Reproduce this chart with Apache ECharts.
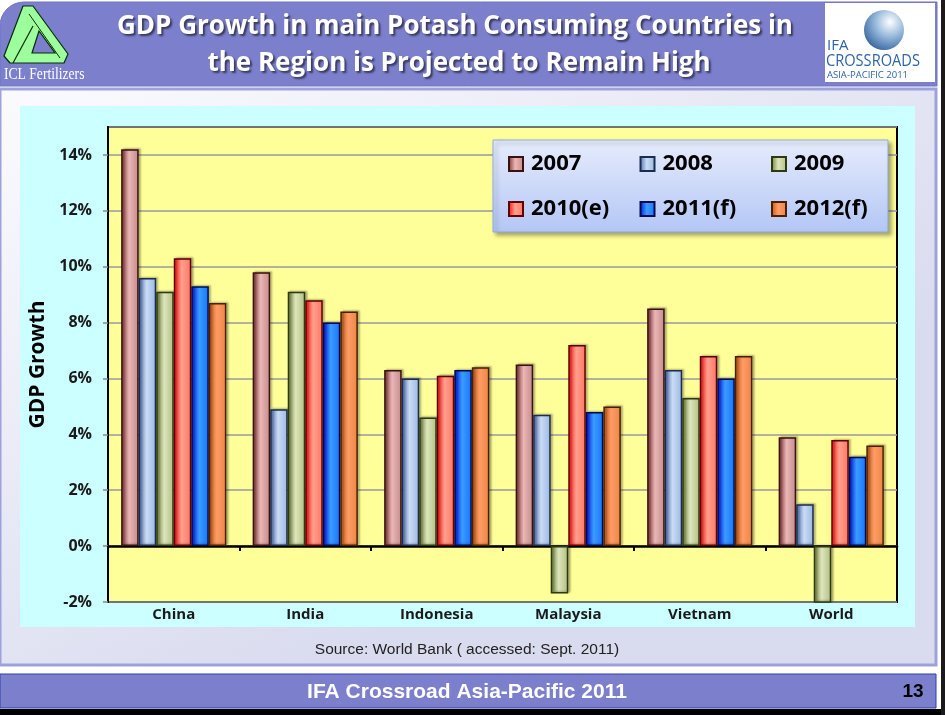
<!DOCTYPE html>
<html><head><meta charset="utf-8">
<script src="https://cdn.jsdelivr.net/npm/echarts@6/dist/echarts.min.js"></script>
<style>html,body{margin:0;padding:0;background:#fff;}#c{width:945px;height:715px;}</style>
</head><body><div id="c"></div>
<script>
const categories = ['China', 'India', 'Indonesia', 'Malaysia', 'Vietnam', 'World'];
const seriesNames = ['2007', '2008', '2009', '2010(e)', '2011(f)', '2012(f)'];
const gdp2007 = [14.2, 9.8, 6.3, 6.5, 8.5, 3.9];
const gdp2008 = [9.6, 4.9, 6.0, 4.7, 6.3, 1.5];
const gdp2009 = [9.1, 9.1, 4.6, -1.7, 5.3, -2.2];
const gdp2010 = [10.3, 8.8, 6.1, 7.2, 6.8, 3.8];
const gdp2011 = [9.3, 8.0, 6.3, 4.8, 6.0, 3.2];
const gdp2012 = [8.7, 8.4, 6.4, 5.0, 6.8, 3.6];
const yMin = -2, yMax = 15, yStep = 2;
const titleLines = ['GDP Growth in main Potash Consuming Countries in', 'the Region is Projected to Remain High'];
const yAxisTitle = 'GDP Growth';
const sourceText = 'Source: World Bank ( accessed: Sept. 2011)';
const footerText = 'IFA Crossroad Asia-Pacific 2011';
const pageNumber = '13';

const allValues = [gdp2007, gdp2008, gdp2009, gdp2010, gdp2011, gdp2012];
const FONT = "'Open Sans', sans-serif";

function grad(edge, light, right) {
  return { type: 'linear', x: 0, y: 0, x2: 1, y2: 0, colorStops: [
    { offset: 0, color: edge }, { offset: 0.45, color: light }, { offset: 1, color: right }
  ]};
}
const barColors = [
  grad('#7a2e2e', '#eab6b6', '#c48a8a'),
  grad('#4a6cb0', '#cadcf4', '#9ab6e2'),
  grad('#6a7e30', '#dde5bd', '#b0bf80'),
  grad('#ff0a0a', '#ffa08e', '#ff7462'),
  grad('#0010e8', '#3a9cff', '#1872ff'),
  grad('#c05410', '#ff9c66', '#ec8444')
];
const borderColors = ['#3a1010', '#1c2c50', '#2e3814', '#600000', '#000a50', '#4a2000'];

const series = seriesNames.map((n, i) => ({
  name: n, type: 'bar', xAxisIndex: 0, yAxisIndex: 0,
  data: allValues[i], barGap: '0%', barCategoryGap: '20%', clip: true,
  itemStyle: { color: barColors[i], borderColor: borderColors[i], borderWidth: 1.5,
    shadowColor: 'rgba(0,0,0,0.25)', shadowBlur: 2, shadowOffsetX: 2, shadowOffsetY: -1 },
  emphasis: { disabled: true }
}));

const legendPos = [[508, 153], [639.5, 153], [771, 153], [508, 198], [639.5, 198], [771, 198]];
const legends = seriesNames.map((n, i) => ({
  data: [n], left: legendPos[i][0], top: legendPos[i][1], padding: 0,
  icon: 'rect', itemWidth: 14, itemHeight: 14, selectedMode: false, z: 6,
  textStyle: { fontFamily: FONT, fontWeight: 'bold', fontSize: 22, color: '#000', lineHeight: 22, padding: [0, 0, 0, 3] }
}));

const chart = echarts.init(document.getElementById('c'), null, { renderer: 'canvas' });
chart.setOption({
  animation: false,
  backgroundColor: '#ffffff',
  textStyle: { fontFamily: FONT },
  grid: { left: 108, right: 48, top: 127, bottom: 113, show: true, backgroundColor: '#ffff99', borderColor: '#000', borderWidth: 2 },
  legend: legends,
  xAxis: [
    { type: 'category', data: categories, position: 'bottom',
      axisLine: { show: true, onZero: true, lineStyle: { color: '#000', width: 2.5 } },
      axisTick: { show: true, length: 5, lineStyle: { color: '#000', width: 2 } },
      axisLabel: { show: false }, splitLine: { show: false } },
    { type: 'category', data: categories, position: 'bottom',
      axisLine: { show: false, onZero: false }, axisTick: { show: false },
      axisLabel: { show: true, margin: 5, fontFamily: FONT, fontWeight: 'bold', fontSize: 15, color: '#1a1a1a' },
      splitLine: { show: false } }
  ],
  yAxis: {
    type: 'value', min: yMin, max: yMax, interval: yStep,
    name: yAxisTitle, nameLocation: 'middle', nameGap: 56, nameRotate: 90,
    nameTextStyle: { fontFamily: FONT, fontWeight: 'bold', fontSize: 21, color: '#000' },
    axisLine: { show: true, lineStyle: { color: '#000', width: 2 } },
    axisTick: { show: true, length: 5, lineStyle: { color: '#888', width: 1.5 } },
    axisLabel: { formatter: v => v + '%', showMaxLabel: false, margin: 16, fontFamily: FONT, fontWeight: 'bold', fontSize: 16, color: '#1a1a1a' },
    splitLine: { show: true, lineStyle: { color: '#9a9a9a', width: 1.5 } }
  },
  series: series,
  graphic: { elements: [
    { type: 'rect', z: -10, shape: { x: 0, y: 89, width: 936, height: 576 },
      style: { fill: { type: 'linear', x: 0, y: 0, x2: 0.35, y2: 1, colorStops: [{ offset: 0, color: '#fbfbfe' }, { offset: 1, color: '#d9dbef' }] },
        stroke: '#9da1dc', lineWidth: 3 } },
    { type: 'rect', z: -9, shape: { x: 20, y: 106, width: 895, height: 521 }, style: { fill: '#ccffff' } },
    { type: 'rect', z: -10, shape: { x: 0, y: 2, width: 937, height: 84, r: [24, 0, 0, 0] }, style: { fill: '#7b7fcc', stroke: '#6f73c2', lineWidth: 1 } },
    { type: 'rect', z: -10, shape: { x: 0, y: 674, width: 936, height: 34 }, style: { fill: '#7b7fcc', stroke: '#2f3fae', lineWidth: 1 } },
    { type: 'rect', z: -10, shape: { x: 0, y: 709, width: 945, height: 6 }, style: { fill: '#000' } },
    { type: 'rect', z: -10, shape: { x: 941, y: 0, width: 4, height: 715 }, style: { fill: '#1a1a1a' } },
    { type: 'text', z: 10, x: 455, y: 27, style: { text: titleLines[0], fill: '#fff', font: 'bold 26px ' + FONT, align: 'center', verticalAlign: 'middle',
        textShadowColor: 'rgba(0,0,0,0.55)', textShadowBlur: 2, textShadowOffsetX: 2, textShadowOffsetY: 2 } },
    { type: 'text', z: 10, x: 459, y: 64, style: { text: titleLines[1], fill: '#fff', font: 'bold 26px ' + FONT, align: 'center', verticalAlign: 'middle',
        textShadowColor: 'rgba(0,0,0,0.55)', textShadowBlur: 2, textShadowOffsetX: 2, textShadowOffsetY: 2 } },
    { type: 'polygon', z: 10, shape: { points: [[23, 6], [33, 6], [68, 54], [64, 63], [10, 63], [4, 56]] },
      style: { fill: '#9cff9c', stroke: '#0a2a0a', lineWidth: 1.2, lineJoin: 'round' } },
    { type: 'polygon', z: 11, shape: { points: [[39, 31], [32, 53], [55, 53]] }, style: { fill: '#7b7fcc', stroke: '#0a2a0a', lineWidth: 1.2 } },
    { type: 'polyline', z: 11, shape: { points: [[33, 26], [13, 63]] }, style: { stroke: '#0a2a0a', lineWidth: 1.2 } },
    { type: 'polyline', z: 11, shape: { points: [[29, 14], [60, 58]] }, style: { stroke: '#0a2a0a', lineWidth: 1 } },
    { type: 'text', z: 11, x: 4, y: 75, scaleX: 0.8, originX: 0, style: { text: 'ICL Fertilizers', fill: '#fff', font: '17px "Liberation Serif", serif', align: 'left', verticalAlign: 'middle' } },
    { type: 'rect', z: 10, shape: { x: 825, y: 3, width: 110, height: 79 }, style: { fill: '#fff' } },
    { type: 'circle', z: 11, shape: { cx: 884, cy: 30, r: 20 },
      style: { fill: { type: 'radial', x: 0.65, y: 0.3, r: 0.8, colorStops: [{ offset: 0, color: '#ffffff' }, { offset: 0.5, color: '#8fb3d8' }, { offset: 1, color: '#2f5f98' }] } } },
    { type: 'text', z: 12, x: 827, y: 46, style: { text: 'IFA', fill: '#2e64a8', font: '15px ' + FONT, verticalAlign: 'middle' } },
    { type: 'text', z: 12, x: 826, y: 61, scaleX: 0.86, originX: 0, style: { text: 'CROSSROADS', fill: '#2e64a8', font: '17px ' + FONT, verticalAlign: 'middle' } },
    { type: 'text', z: 12, x: 827, y: 75, style: { text: 'ASIA-PACIFIC 2011', fill: '#2e64a8', font: '9.5px ' + FONT, verticalAlign: 'middle' } },
    { type: 'rect', z: 3, shape: { x: 493, y: 140, width: 395, height: 92 },
      style: { fill: { type: 'linear', x: 0, y: 0, x2: 0, y2: 1, colorStops: [{ offset: 0, color: '#e6ecfc' }, { offset: 1, color: '#b3c6f5' }] },
        stroke: '#8ea9e0', lineWidth: 1, shadowColor: 'rgba(0,0,0,0.35)', shadowBlur: 4, shadowOffsetX: 3, shadowOffsetY: 3 } },
    { type: 'text', z: 10, x: 467, y: 650, style: { text: sourceText, fill: '#222', font: '15.5px "Liberation Sans", Arial, sans-serif', align: 'center', verticalAlign: 'middle' } },
    { type: 'text', z: 10, x: 467, y: 692, style: { text: footerText, fill: '#fff', font: 'bold 21px "Liberation Sans", Arial, sans-serif', align: 'center', verticalAlign: 'middle' } },
    { type: 'text', z: 10, x: 913, y: 692, style: { text: pageNumber, fill: '#000', font: 'bold 19px "Liberation Sans", Arial, sans-serif', align: 'center', verticalAlign: 'middle' } }
  ] }
});
</script>
</body></html>
